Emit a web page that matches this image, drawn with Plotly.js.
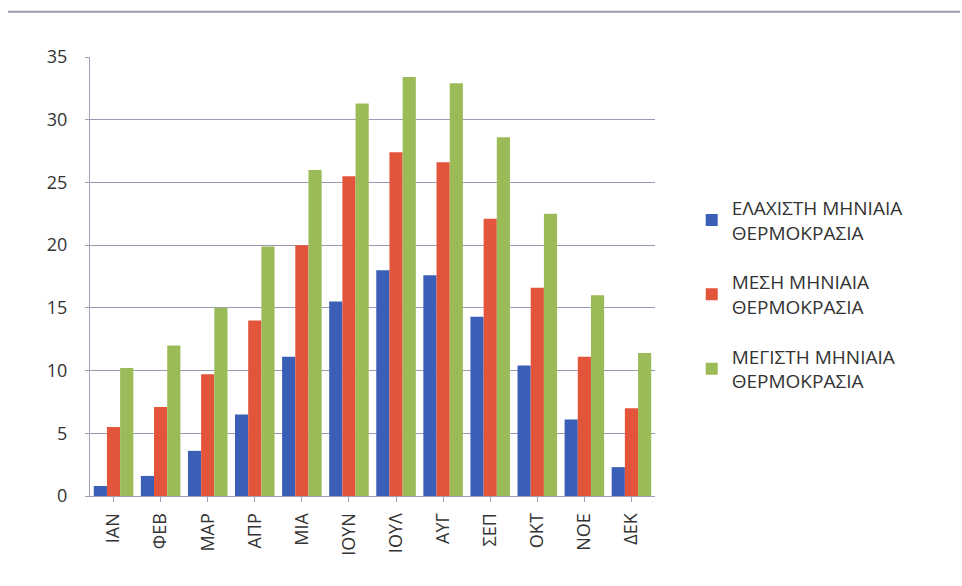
<!DOCTYPE html>
<html>
<head>
<meta charset="utf-8">
<script src="https://cdn.plot.ly/plotly-3.0.1.min.js"></script>
<style>html,body{margin:0;padding:0;background:#fff;}#chart{width:962px;height:586px;}</style>
</head>
<body>
<div id="chart"></div>
<script>
const months = ["ΙΑΝ","ΦΕΒ","ΜΑΡ","ΑΠΡ","ΜΙΑ","ΙΟΥΝ","ΙΟΥΛ","ΑΥΓ","ΣΕΠ","ΟΚΤ","ΝΟΕ","ΔΕΚ"];
const minTemp  = [0.8, 1.6, 3.6, 6.5, 11.1, 15.5, 18.0, 17.6, 14.3, 10.4, 6.1, 2.3];
const meanTemp = [5.5, 7.1, 9.7, 14.0, 20.0, 25.5, 27.4, 26.6, 22.1, 16.6, 11.1, 7.0];
const maxTemp  = [10.2, 12.0, 15.0, 19.9, 26.0, 31.3, 33.4, 32.9, 28.6, 22.5, 16.0, 11.4];
const seriesNames = ["ΕΛΑΧΙΣΤΗ ΜΗΝΙΑΙΑ<br>ΘΕΡΜΟΚΡΑΣΙΑ","ΜΕΣΗ ΜΗΝΙΑΙΑ<br>ΘΕΡΜΟΚΡΑΣΙΑ","ΜΕΓΙΣΤΗ ΜΗΝΙΑΙΑ<br>ΘΕΡΜΟΚΡΑΣΙΑ"];
const yTicks = [0,5,10,15,20,25,30,35];

const colors = ["#3b5fb6","#e2553b","#9bbb59"];
const vals = [minTemp, meanTemp, maxTemp];
const data = vals.map((v,i)=>({
  type:"bar", x:months, y:v, name:seriesNames[i], legendgroup:"g"+i,
  marker:{color:colors[i]}
}));

const layout = {
  width:962, height:586,
  margin:{l:90, r:307, t:57, b:90},
  paper_bgcolor:"#ffffff", plot_bgcolor:"#ffffff",
  font:{family:"Open Sans, Noto Sans, sans-serif", color:"#333"},
  barmode:"group", bargap:0.16, bargroupgap:0,
  showlegend:true,
  legend:{x:1.065, y:0.70, xanchor:"left", yanchor:"top", font:{size:19, color:"#333"}, tracegroupgap:22, itemwidth:30},
  xaxis:{type:"category", tickangle:-90, tickfont:{size:18, color:"#333"},
    showline:true, linecolor:"#a0a0b8", linewidth:1, ticks:"outside", ticklen:5, tickcolor:"#a0a0b8",
    ticklabelstandoff:4,
    showgrid:false},
  yaxis:{range:[0,35], tickvals:yTicks, tickfont:{size:18, color:"#333"},
    showline:true, linecolor:"#a0a0b8", linewidth:1, ticks:"outside", ticklen:4, tickcolor:"#a0a0b8",
    ticklabelstandoff:14,
    showgrid:true, gridcolor:"#9a9ab2", gridwidth:1, zeroline:false},
  shapes:[
    {type:"line", xref:"paper", yref:"paper", x0:-0.145, x1:1.54, y0:1.103, y1:1.103, line:{color:"#9a9aa8", width:2}}
  ]
};
Plotly.newPlot("chart", data, layout, {displayModeBar:false, staticPlot:true});
</script>
</body>
</html>
